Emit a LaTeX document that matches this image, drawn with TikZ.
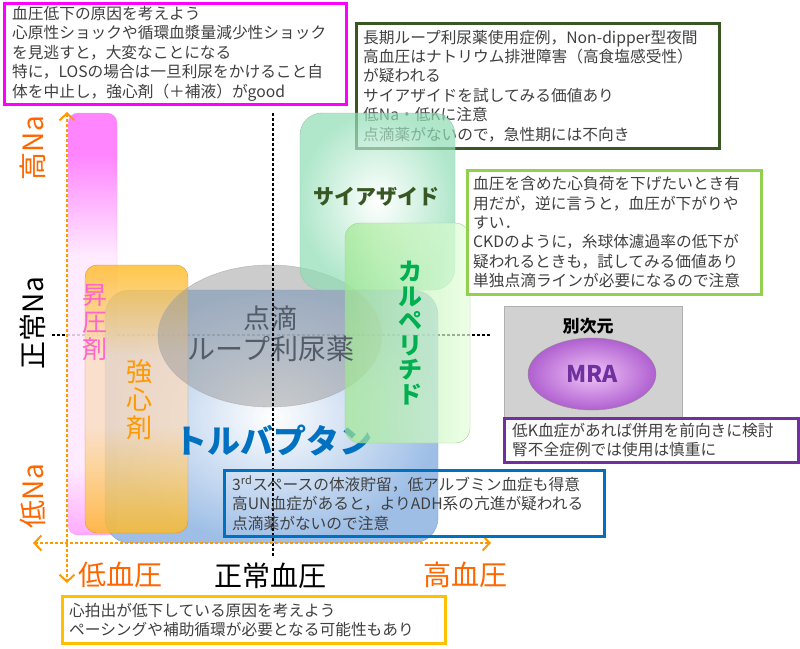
\documentclass[tikz,border=0pt]{standalone}
\usepackage{fontspec}
\setmainfont{Noto Sans CJK JP}
\usetikzlibrary{arrows.meta,shapes.geometric}
\definecolor{mag}{HTML}{FF00FF}
\definecolor{dgreen}{HTML}{385723}
\definecolor{lgreen}{HTML}{92D050}
\definecolor{purp}{HTML}{7030A0}
\definecolor{bluebox}{HTML}{0070C0}
\definecolor{obox}{HTML}{FFC000}
\definecolor{axisO}{HTML}{FF9900}
\definecolor{labO}{HTML}{FF6600}
\definecolor{txtgray}{HTML}{404040}
\definecolor{pinkA}{HTML}{FF70FF}
\definecolor{pinkB}{HTML}{FFE8FF}
\definecolor{pinkC}{HTML}{FF9CFF}
\definecolor{pinkD}{HTML}{E090E0}
\definecolor{oraA}{HTML}{FFBA20}
\definecolor{oraB}{HTML}{FADCC0}
\definecolor{oraD}{HTML}{D89A30}
\definecolor{blueS}{HTML}{8DB3E2}
\definecolor{blueD}{HTML}{7F9FCF}
\definecolor{grayE}{HTML}{9A9A9A}
\definecolor{grayL}{HTML}{B0B0B0}
\definecolor{mintS}{HTML}{8FDDB5}
\definecolor{mintD}{HTML}{90C8A8}
\definecolor{carpA}{HTML}{A0E890}
\definecolor{carpB}{HTML}{E4FFDC}
\definecolor{carpD}{HTML}{A0D090}
\definecolor{carpT}{HTML}{00B050}
\definecolor{tentT}{HTML}{535C68}
\definecolor{pinkT}{HTML}{FF66CC}
\definecolor{mraA}{HTML}{F0C4F8}
\definecolor{mraB}{HTML}{B060D0}
\pgfdeclareverticalshading{pinkbarshade}{100bp}{color(0bp)=(pinkC); color(25bp)=(pinkC); color(33bp)=(pinkB); color(58bp)=(pinkB); color(70bp)=(pinkA); color(75bp)=(pinkA); color(100bp)=(pinkA)}
\pgfdeclareverticalshading{orabarshade}{100bp}{color(0bp)=(oraA); color(25bp)=(oraA); color(45bp)=(oraB); color(58bp)=(oraB); color(75bp)=(oraA); color(100bp)=(oraA)}
\begin{document}
\begin{tikzpicture}[x=1pt,y=-1pt,
  notebox/.style={draw=#1, line width=2.5pt, fill=white, rectangle, inner sep=0pt, anchor=north west},
  notetext/.style={inner sep=0pt, anchor=west, align=left, text=txtgray, font=\fontsize{15.7}{19.4}\selectfont},
  blkdot/.style={draw=black, line width=2.5pt, dash pattern=on 2.5pt off 2.5pt},
  oraxis/.style={draw=axisO, line width=2.5pt, dash pattern=on 2.5pt off 2.5pt},
  tipb/.tip={Straight Barb[length=7pt,width=15pt,line width=2pt]},
  axlab/.style={inner sep=0pt, font=\fontsize{28}{28}\selectfont},
  vlab/.style={inner sep=0pt, align=center}
]
\useasboundingbox (0,0) rectangle (800,648);
% horizontal black dotted (below shapes)
\coordinate (hl) at (52,335);
\coordinate (hr) at (490,335);
\draw[blkdot] (hl) -- (hr);
% pink bar
\shade[rounded corners=10pt, shading=pinkbarshade, fill opacity=0.85, draw=pinkD, draw opacity=0.6] (68,113) rectangle (117,535);
% blue rect
\shade[rounded corners=25pt, inner color=white, outer color=blueS, fill opacity=0.85, draw=blueD] (105,290) rectangle (438,543);
% orange bar
\shade[rounded corners=12pt, shading=orabarshade, fill opacity=0.8, draw=oraD] (85,265) rectangle (188,533);
% gray ellipse
\path[fill=grayE, fill opacity=0.5, draw=grayL] (270,336) ellipse [x radius=112, y radius=71];
% tolvaptan text
\node[inner sep=0pt, font=\fontsize{33}{33}\selectfont\bfseries, text=bluebox] (tolv) at (273,440) {トルバプタン};
% dark green note (under thiazide)
\node[notebox=dgreen, minimum width=363, minimum height=125] (b2) at (355,22) {};
\node[notetext] (t2) at ([xshift=8pt]b2.west) {長期ループ利尿薬使用症例，Non-dipper型夜間\\高血圧はナトリウム排泄障害（高食塩感受性）\\が疑われる\\サイアザイドを試してみる価値あり\\低Na・低Kに注意\\点滴薬がないので，急性期には不向き};
% thiazide rect
\shade[rounded corners=22pt, inner color=white, outer color=mintS, fill opacity=0.7, draw=mintD] (300,113) rectangle (455,290);
% carperitide rect
\shade[rounded corners=15pt, left color=carpA, right color=carpB, fill opacity=0.7, draw=carpD] (345,223) rectangle (470,443);
% texts on shapes
\node[inner sep=0pt, font=\fontsize{21}{21}\selectfont\bfseries, text=dgreen] (thz) at (376,197) {サイアザイド};
\node[vlab, font=\fontsize{24}{24.5}\selectfont\bfseries, text=carpT] (carp) at (410,333) {カ\\ル\\ペ\\リ\\チ\\ド};
\node[inner sep=0pt, font=\fontsize{27}{27}\selectfont, text=tentT] (tt1) at (270,318) {点滴};
\node[inner sep=0pt, font=\fontsize{28}{28}\selectfont, text=tentT] (tt2) at (271,349) {ループ利尿薬};
\node[vlab, font=\fontsize{26}{28}\selectfont, text=axisO] (kyo) at (139,400) {強\\心\\剤};
\node[vlab, font=\fontsize{25}{27}\selectfont, text=pinkT] (sho) at (95,323) {昇\\圧\\剤};
% vertical black dotted
\coordinate (vt) at (273,113);
\coordinate (vb) at (273,557);
\draw[blkdot] (vt) -- (vb);
% orange axes
\coordinate (ytop) at (67,112);
\coordinate (ybot) at (67,583);
\coordinate (xl) at (33,543);
\coordinate (xr) at (491,543);
\draw[oraxis, tipb-tipb] (ytop) -- (ybot);
\draw[oraxis, tipb-tipb] (xl) -- (xr);
% magenta note
\node[notebox=mag, minimum width=342, minimum height=101] (b1) at (3,2) {};
\node[notetext] (t1) at ([xshift=9pt]b1.west) {血圧低下の原因を考えよう\\心原性ショックや循環血漿量減少性ショック\\を見逃すと，大変なことになる\\特に，LOSの場合は一旦利尿をかけること自\\体を中止し，強心剤（＋補液）がgood};
% light green note
\node[notebox=lgreen, minimum width=294, minimum height=124] (b3) at (466,169) {};
\node[notetext] (t3) at ([xshift=7pt]b3.west) {血圧を含めた心負荷を下げたいとき有\\用だが，逆に言うと，血圧が下がりや\\すい．\\CKDのように，糸球体濾過率の低下が\\疑われるときも，試してみる価値あり\\単独点滴ラインが必要になるので注意};
% separate dimension box
\node[draw=grayL, fill=black!18, rectangle, inner sep=0pt, anchor=north west, minimum width=178, minimum height=122] (dim) at (504,306) {};
\node[inner sep=0pt, font=\fontsize{17}{17}\selectfont\bfseries, text=black] (dimt) at (588,326) {別次元};
\node[ellipse, inner sep=0pt, minimum width=128, minimum height=72, draw=black!45, inner color=mraA, outer color=mraB] (mra) at (592,374) {};
\node[inner sep=0pt, font=\fontsize{23}{23}\selectfont\bfseries, text=purp] (mrat) at (mra.center) {MRA};
% purple note
\node[notebox=purp, fill opacity=0.85, text opacity=1, minimum width=294, minimum height=44] (b4) at (503,417) {};
\node[notetext] (t4) at ([xshift=9pt]b4.west) {低K血症があれば併用を前向きに検討\\腎不全症例では使用は慎重に};
% blue note
\node[notebox=bluebox, fill=none, minimum width=380, minimum height=66] (b5) at (223,469) {};
\node[notetext] (t5) at ([xshift=9pt]b5.west) {3\textsuperscript{rd}スペースの体液貯留，低アルブミン血症も得意\\高UN血症があると，よりADH系の亢進が疑われる\\点滴薬がないので注意};
% orange note
\node[notebox=obox, minimum width=383, minimum height=47] (b6) at (61,595) {};
\node[notetext] (t6) at ([xshift=8pt]b6.west) {心拍出が低下している原因を考えよう\\ペーシングや補助循環が必要となる可能性もあり};
% axis labels
\node[axlab, text=labO, rotate=90] (hna) at (33,148) {高Na};
\node[axlab, text=black, rotate=90] (nna) at (33,323) {正常Na};
\node[axlab, text=labO, rotate=90] (lna) at (33,496) {低Na};
\node[axlab, text=labO] (lbp) at (120,575) {低血圧};
\node[axlab, text=black] (nbp) at (270,576) {正常血圧};
\node[axlab, text=labO] (hbp) at (465,575) {高血圧};
\end{tikzpicture}
\end{document}
